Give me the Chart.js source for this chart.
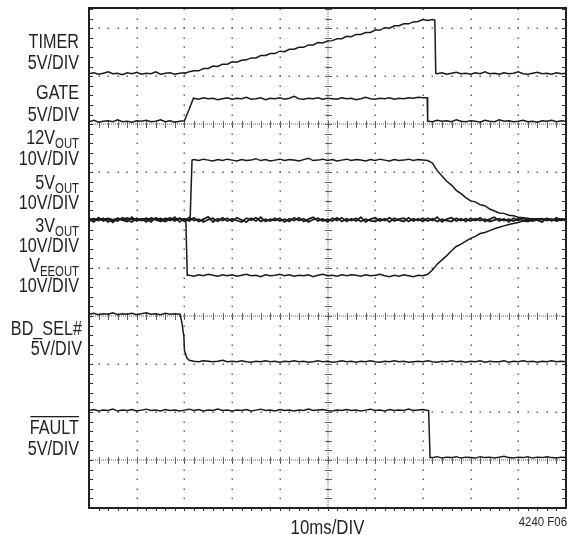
<!DOCTYPE html>
<html>
<head>
<meta charset="utf-8">
<script src="https://cdn.jsdelivr.net/npm/chart.js@4.4.1/dist/chart.umd.min.js"></script>
<style>
  html, body { margin: 0; padding: 0; background: #fff; }
  #wrap { width: 573px; height: 535px; }
</style>
</head>
<body>
<div id="wrap"><canvas id="scope" width="573" height="535"></canvas></div>
<script>
// time axis in ms (10ms/DIV), trace values in screen divisions from the bottom
const timeMs = [0,1,2,3,4,5,6,7,8,9,10,11,12,13,14,15,16,17,18,19,20,21,22,23,24,25,26,27,28,29,
  30,31,32,33,34,35,36,37,38,39,40,41,42,43,44,45,46,47,48,49,50,51,52,53,54,55,56,57,58,59,
  60,61,62,63,64,65,66,67,68,69,70,71,72,73,74,75,76,77,78,79,80,81,82,83,84,85,86,87,88,89,
  90,91,92,93,94,95,96,97,98,99,100];

const timerDiv = [9.05,9.07,9.04,9.06,9.09,9.05,9.06,9.03,9.07,9.05,
  9.08,9.04,9.06,9.05,9.09,9.04,9.06,9.07,9.04,9.06,
  9.07,9.09,9.11,9.11,9.16,9.16,9.21,9.20,9.25,9.25,
  9.30,9.29,9.33,9.34,9.38,9.38,9.43,9.43,9.47,9.47,
  9.52,9.51,9.56,9.56,9.60,9.60,9.65,9.65,9.70,9.69,
  9.73,9.74,9.78,9.78,9.83,9.82,9.87,9.87,9.91,9.91,
  9.96,9.96,10.01,10.00,10.05,10.05,10.09,10.09,10.13,10.14,
  10.18,10.16,10.18,9.05,9.07,9.04,9.06,9.08,9.05,9.06,
  9.04,9.07,9.05,9.09,9.05,9.06,9.04,9.07,9.05,9.06,
  9.09,9.05,9.04,9.06,9.08,9.05,9.06,9.04,9.07,9.05,9.06];
const timerEdges = [[20.1, 9.06], [72.5, 10.17], [72.7, 9.06]];

const gateDiv = [8.05,8.08,8.04,8.06,8.07,8.05,8.09,8.05,8.06,8.04,
  8.07,8.06,8.08,8.05,8.06,8.09,8.05,8.07,8.04,8.06,
  8.07,8.31,8.54,8.52,8.55,8.53,8.54,8.51,8.53,8.55,
  8.52,8.54,8.53,8.56,8.52,8.53,8.55,8.51,8.54,8.53,
  8.55,8.52,8.54,8.58,8.53,8.52,8.54,8.53,8.55,8.52,
  8.54,8.53,8.52,8.55,8.53,8.54,8.51,8.53,8.56,8.53,
  8.52,8.54,8.53,8.55,8.52,8.54,8.53,8.55,8.54,8.56,
  8.55,8.06,8.05,8.08,8.06,8.07,8.05,8.09,8.06,8.05,
  8.07,8.06,8.04,8.08,8.06,8.05,8.09,8.06,8.07,8.05,
  8.06,8.08,8.05,8.06,8.04,8.07,8.06,8.08,8.05,8.07,8.06];
const gateEdges = [[20.1, 8.07], [21.9, 8.54], [70.9, 8.55], [71.2, 8.06]];

const v12Div = [6.03,6.00,6.04,6.01,6.03,6.00,6.04,6.02,6.05,6.01,
  6.03,6.00,6.04,6.02,6.01,6.04,6.00,6.03,6.02,6.04,
  6.01,6.02,7.26,7.24,7.27,7.25,7.23,7.26,7.24,7.27,
  7.25,7.23,7.26,7.24,7.25,7.28,7.24,7.26,7.23,7.25,
  7.27,7.24,7.26,7.25,7.23,7.26,7.29,7.24,7.25,7.27,
  7.24,7.26,7.23,7.25,7.27,7.24,7.26,7.25,7.23,7.26,
  7.24,7.27,7.25,7.23,7.26,7.24,7.25,7.27,7.24,7.26,
  7.25,7.24,7.19,7.03,6.92,6.81,6.73,6.62,6.55,6.47,
  6.40,6.38,6.32,6.30,6.23,6.19,6.15,6.14,6.10,6.09,
  6.06,6.05,6.04,6.02,6.03,6.01,6.03,6.02,6.00,6.03,6.01];
const v12Edges = [[21.2, 6.02], [21.6, 7.25]];

const v5Div = [6.02,5.96,6.05,5.98,6.03,5.95,6.04,6.00,5.97,6.06,
  5.98,6.03,5.96,6.05,6.01,5.97,6.04,5.99,6.06,5.96,
  6.03,5.98,6.05,5.97,6.02,6.07,5.96,6.03,5.99,6.04,
  5.97,6.05,6.00,5.96,6.04,5.98,6.06,5.97,6.02,5.99,
  6.04,5.96,6.03,5.99,6.05,5.97,6.02,6.06,5.98,6.03,
  5.96,6.04,5.99,6.05,5.97,6.03,5.98,6.06,5.96,6.02,
  6.05,5.98,6.03,5.96,6.04,6.00,5.97,6.05,5.98,6.03,
  5.97,6.04,5.99,6.06,5.96,6.02,6.05,5.98,6.03,5.97,
  6.04,5.99,6.05,5.97,6.02,6.06,5.98,6.03,5.96,6.04,
  5.99,6.05,5.97,6.03,6.00,5.96,6.04,5.98,6.05,5.99,6.02];

const v3Div = [5.97,6.03,5.99,6.04,5.96,6.01,5.98,6.05,6.00,5.96,
  6.04,5.99,6.02,5.96,6.05,6.00,5.97,6.03,5.98,6.04,
  5.97,6.06,5.99,6.02,5.96,6.01,6.04,5.97,6.05,5.98,
  6.03,5.99,5.96,6.04,6.00,6.05,5.97,6.02,5.98,6.04,
  5.98,6.02,5.97,6.05,5.99,6.03,5.96,6.01,6.04,5.98,
  6.02,5.98,6.05,5.97,6.03,5.99,6.04,5.97,6.02,5.99,
  5.97,6.03,5.99,6.05,5.98,6.02,6.04,5.97,6.03,5.99,
  6.04,5.98,6.03,5.97,6.02,5.99,5.97,6.04,5.99,6.03,
  5.98,6.03,5.99,6.02,5.97,6.00,6.03,5.99,6.02,5.98,
  6.03,5.99,6.02,5.98,6.01,6.03,5.99,6.02,5.98,6.01,5.99];

const veeDiv = [6.01,6.03,6.00,6.02,6.04,6.01,6.03,6.00,6.02,6.04,
  6.01,6.02,6.04,6.00,6.03,6.01,6.02,6.05,6.01,6.03,
  6.02,4.85,4.83,4.86,4.84,4.87,4.85,4.83,4.86,4.84,
  4.86,4.83,4.85,4.87,4.84,4.85,4.82,4.86,4.84,4.85,
  4.87,4.84,4.86,4.83,4.85,4.84,4.86,4.82,4.85,4.87,
  4.84,4.85,4.83,4.86,4.84,4.86,4.85,4.83,4.86,4.84,
  4.85,4.87,4.84,4.82,4.85,4.83,4.86,4.84,4.82,4.85,
  4.84,4.87,4.96,5.08,5.17,5.26,5.36,5.45,5.50,5.56,
  5.62,5.66,5.72,5.74,5.78,5.82,5.85,5.88,5.91,5.93,
  5.95,5.98,5.97,6.00,6.02,6.01,6.03,6.00,6.02,6.01,6.02];
const veeEdges = [[20.3, 6.02], [20.6, 4.85]];

const bdSelDiv = [4.04,4.06,4.03,4.05,4.04,4.07,4.03,4.05,4.04,4.06,
  4.03,4.05,4.07,4.04,4.05,4.03,4.06,4.04,4.05,4.04,
  3.29,3.08,3.06,3.05,3.07,3.06,3.05,3.06,3.08,3.05,
  3.06,3.05,3.07,3.05,3.04,3.06,3.05,3.07,3.05,3.06,
  3.04,3.06,3.05,3.07,3.05,3.06,3.04,3.05,3.07,3.05,
  3.06,3.04,3.05,3.07,3.05,3.06,3.04,3.06,3.05,3.07,
  3.05,3.04,3.06,3.05,3.07,3.05,3.06,3.04,3.05,3.06,
  3.05,3.07,3.05,3.04,3.06,3.05,3.07,3.05,3.06,3.04,
  3.06,3.05,3.07,3.04,3.06,3.05,3.05,3.07,3.04,3.06,
  3.05,3.07,3.05,3.06,3.04,3.06,3.05,3.07,3.05,3.06,3.05];
const bdSelEdges = [[19.1, 4.04], [19.5, 3.85], [19.9, 3.56], [20.5, 3.13]];

const faultDiv = [2.03,2.05,2.02,2.04,2.03,2.06,2.02,2.04,2.03,2.05,
  2.02,2.04,2.06,2.03,2.04,2.02,2.05,2.03,2.04,2.02,
  2.04,2.06,2.03,2.05,2.02,2.04,2.03,2.06,2.03,2.04,
  2.02,2.04,2.03,2.05,2.02,2.04,2.06,2.03,2.04,2.02,
  2.05,2.03,2.04,2.02,2.04,2.03,2.06,2.03,2.04,2.05,
  2.03,2.02,2.04,2.03,2.05,2.03,2.04,2.02,2.04,2.06,
  2.03,2.04,2.02,2.05,2.03,2.04,2.03,2.06,2.03,2.04,
  2.05,2.03,1.05,1.07,1.04,1.06,1.05,1.07,1.04,1.06,
  1.05,1.04,1.07,1.05,1.06,1.04,1.06,1.08,1.05,1.04,
  1.06,1.05,1.07,1.04,1.06,1.05,1.07,1.05,1.04,1.06,1.05];
const faultEdges = [[71.2, 2.03], [71.5, 1.05]];

// graticule
const gridMs = [10, 20, 30, 40, 60, 70, 80, 90];
const centerMs = [50];
const gridDiv = [2, 3, 5, 6, 7, 9, 10];
const tickedDiv = [1, 4, 8];

const INK = "#231f20";
const TRACE = "#1a1a1a";
const DOTS = "#606060";
const FONT = "'Liberation Sans', Arial, sans-serif";

function buildTrace(values, edges) {
  const pts = values.map((v, i) => ({ x: timeMs[i], y: v }));
  (edges || []).forEach((e) => pts.push({ x: e[0], y: e[1] }));
  pts.sort((a, b) => a.x - b.x);
  return pts;
}

function traceSet(label, values, edges, width) {
  return {
    label: label,
    data: buildTrace(values, edges),
    showLine: true,
    borderColor: TRACE,
    borderWidth: width || 1.5,
    pointRadius: 0,
    fill: false,
    tension: 0,
  };
}

const graticule = {
  id: "graticule",
  beforeDatasetsDraw(chart) {
    const { ctx, chartArea: a, scales: { x, y } } = chart;
    ctx.save();
    ctx.fillStyle = DOTS;
    // plain dotted columns, a dot at each minor division
    gridMs.forEach((ms) => {
      const px = Math.round(x.getPixelForValue(ms));
      for (let d = 0.2; d < y.max; d += 0.2) {
        ctx.fillRect(px - 0.5, Math.round(y.getPixelForValue(d)) - 0.5, 1.5, 1.5);
      }
    });
    // plain dotted rows
    gridDiv.forEach((dv) => {
      const py = Math.round(y.getPixelForValue(dv));
      for (let t = 2; t < 100; t += 2) {
        ctx.fillRect(Math.round(x.getPixelForValue(t)) - 0.5, py - 0.5, 1.5, 1.5);
      }
    });
    // centre column: fine dots plus small cross ticks
    centerMs.forEach((ms) => {
      const px = Math.round(x.getPixelForValue(ms));
      for (let py = a.top; py < a.bottom; py += 2) ctx.fillRect(px - 0.5, py, 1, 1);
      for (let d = 0.2; d < y.max; d += 0.2) {
        ctx.fillRect(px - 3, Math.round(y.getPixelForValue(d)), 7, 1);
      }
    });
    // ticked rows
    tickedDiv.forEach((dv) => {
      const py = Math.round(y.getPixelForValue(dv));
      for (let px = a.left; px < a.right; px += 2) ctx.fillRect(px, py - 0.5, 1, 1);
      for (let t = 2; t < 100; t += 2) {
        ctx.fillRect(Math.round(x.getPixelForValue(t)), py - 3, 1, 7);
      }
    });
    ctx.restore();
  },
  afterDatasetsDraw(chart) {
    const { ctx, chartArea: a, scales: { x, y } } = chart;
    ctx.save();
    ctx.strokeStyle = "#202020";
    ctx.lineWidth = 2;
    ctx.strokeRect(a.left, a.top, a.right - a.left, a.bottom - a.top);
    ctx.fillStyle = "#303030";
    for (let d = 0.2; d < y.max; d += 0.2) {
      const py = Math.round(y.getPixelForValue(d));
      ctx.fillRect(a.left, py, 4, 1);
      ctx.fillRect(a.right - 4, py, 4, 1);
    }
    for (let t = 2; t < 100; t += 2) {
      const px = Math.round(x.getPixelForValue(t));
      ctx.fillRect(px, a.bottom, 1, 3);
    }
    ctx.restore();
  },
};

// condensed text drawn as runs; sub runs are smaller and lowered
function drawRuns(ctx, runs, xPos, yBase, align, size, sx) {
  const subSize = Math.round(size * 0.72);
  let total = 0;
  runs.forEach((r) => {
    ctx.font = (r.sub ? subSize : size) + "px " + FONT;
    r.w = ctx.measureText(r.t).width;
    total += r.w;
  });
  ctx.save();
  ctx.translate(xPos, yBase);
  ctx.scale(sx, 1);
  let cx = align === "right" ? -total : align === "center" ? -total / 2 : 0;
  const start = cx;
  runs.forEach((r) => {
    ctx.font = (r.sub ? subSize : size) + "px " + FONT;
    ctx.textAlign = "left";
    ctx.textBaseline = "alphabetic";
    ctx.fillText(r.t, cx, r.sub ? 4 : 0);
    cx += r.w;
  });
  ctx.restore();
  return { left: xPos + start * sx, right: xPos + cx * sx };
}

const channelLabels = [
  { runs: [{ t: "TIMER" }], x: 79, y: 48 },
  { runs: [{ t: "5V/DIV" }], x: 79, y: 69 },
  { runs: [{ t: "GATE" }], x: 79, y: 99 },
  { runs: [{ t: "5V/DIV" }], x: 79, y: 120.5 },
  { runs: [{ t: "12V" }, { t: "OUT", sub: true }], x: 79, y: 143.5 },
  { runs: [{ t: "10V/DIV" }], x: 79, y: 165 },
  { runs: [{ t: "5V" }, { t: "OUT", sub: true }], x: 79, y: 188.5 },
  { runs: [{ t: "10V/DIV" }], x: 79, y: 208.5 },
  { runs: [{ t: "3V" }, { t: "OUT", sub: true }], x: 79, y: 232 },
  { runs: [{ t: "10V/DIV" }], x: 79, y: 252 },
  { runs: [{ t: "V" }, { t: "EEOUT", sub: true }], x: 79, y: 271.5 },
  { runs: [{ t: "10V/DIV" }], x: 79, y: 291.5 },
  { runs: [{ t: "BD_SEL#" }], x: 82, y: 335 },
  { runs: [{ t: "5V/DIV" }], x: 82, y: 355 },
  { runs: [{ t: "FAULT" }], x: 79, y: 434, bar: true },
  { runs: [{ t: "5V/DIV" }], x: 79, y: 455 },
];

const annotations = {
  id: "annotations",
  afterDraw(chart) {
    const { ctx, chartArea: a } = chart;
    ctx.save();
    ctx.fillStyle = INK;
    channelLabels.forEach((l) => {
      const box = drawRuns(ctx, l.runs, l.x, l.y, "right", 20, 0.81);
      if (l.bar) ctx.fillRect(box.left + 0.5, l.y - 18, box.right - box.left - 0.5, 1.3);
    });
    drawRuns(ctx, [{ t: "10ms/DIV" }], (a.left + a.right) / 2, 533.5, "center", 20, 0.84);
    drawRuns(ctx, [{ t: "4240 F06" }], 567, 526, "right", 13, 0.88);
    ctx.restore();
  },
};

new Chart(document.getElementById("scope"), {
  type: "scatter",
  data: {
    datasets: [
      traceSet("TIMER", timerDiv, timerEdges),
      traceSet("GATE", gateDiv, gateEdges),
      traceSet("12VOUT", v12Div, v12Edges),
      traceSet("5VOUT", v5Div, [], 1.7),
      traceSet("3VOUT", v3Div, [], 1.7),
      traceSet("VEEOUT", veeDiv, veeEdges),
      traceSet("BD_SEL#", bdSelDiv, bdSelEdges),
      traceSet("FAULT", faultDiv, faultEdges),
    ],
  },
  options: {
    responsive: false,
    animation: false,
    devicePixelRatio: 1,
    layout: { padding: { left: 89, right: 7, top: 8, bottom: 27 } },
    plugins: { legend: { display: false }, tooltip: { enabled: false } },
    scales: {
      x: { type: "linear", min: 0, max: 100, display: false },
      y: { type: "linear", min: 0, max: 10.42, display: false },
    },
  },
  plugins: [graticule, annotations],
});
</script>
</body>
</html>
